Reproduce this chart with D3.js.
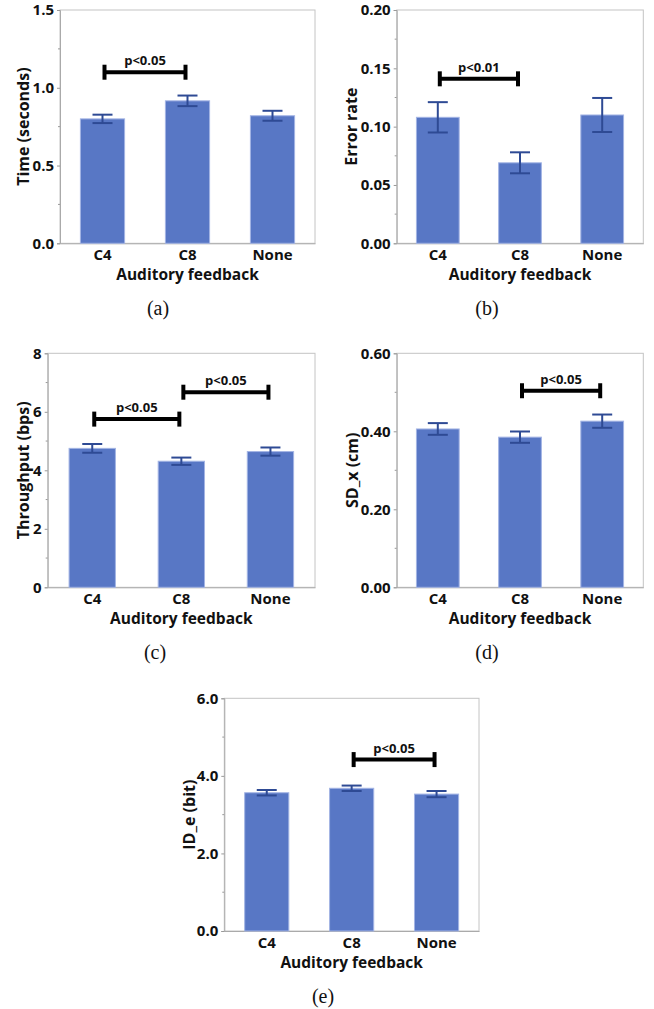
<!DOCTYPE html>
<html>
<head>
<meta charset="utf-8">
<script src="https://cdn.jsdelivr.net/npm/d3@7"></script>
<style>
  html, body { margin: 0; padding: 0; background: #fff; }
  svg { display: block; }
</style>
</head>
<body>
<script>
// ---------- DATA ----------
const categories = ["C4", "C8", "None"];

const timeMeans = [0.80, 0.916, 0.82];
const timeErr = [0.027, 0.034, 0.032];
const timeTicks = [0.0, 0.5, 1.0, 1.5];
const timeTickLabels = ["0.0", "0.5", "1.0", "1.5"];
const timeSig = [{ from: "C4", to: "C8", y: 1.10, label: "p<0.05" }];

const errorMeans = [0.108, 0.069, 0.110];
const errorErr = [0.013, 0.009, 0.0146];
const errorTicks = [0.00, 0.05, 0.10, 0.15, 0.20];
const errorTickLabels = ["0.00", "0.05", "0.10", "0.15", "0.20"];
const errorSig = [{ from: "C4", to: "C8", y: 0.141, label: "p<0.01" }];

const throughputMeans = [4.75, 4.31, 4.64];
const throughputErr = [0.15, 0.125, 0.14];
const throughputTicks = [0, 2, 4, 6, 8];
const throughputTickLabels = ["0", "2", "4", "6", "8"];
const throughputSig = [
  { from: "C4", to: "C8", y: 5.75, label: "p<0.05" },
  { from: "C8", to: "None", y: 6.67, label: "p<0.05" }
];

const sdxMeans = [0.406, 0.385, 0.426];
const sdxErr = [0.015, 0.0145, 0.017];
const sdxTicks = [0.00, 0.20, 0.40, 0.60];
const sdxTickLabels = ["0.00", "0.20", "0.40", "0.60"];
const sdxSig = [{ from: "C8", to: "None", y: 0.504, label: "p<0.05" }];

const ideMeans = [3.565, 3.68, 3.53];
const ideErr = [0.07, 0.07, 0.08];
const ideTicks = [0.0, 2.0, 4.0, 6.0];
const ideTickLabels = ["0.0", "2.0", "4.0", "6.0"];
const ideSig = [{ from: "C8", to: "None", y: 4.42, label: "p<0.05" }];

const xTitle = "Auditory feedback";

// ---------- LAYOUT ----------
const W = 654, H = 1009;
const svg = d3.select("body").append("svg").attr("width", W).attr("height", H);

const FONT = "'Open Sans', 'Noto Sans', sans-serif";
const BAR = "#5877c5", BAR_EDGE = "#a3b4e4", ERR = "#2e4a94", FRAME = "#c4c4c4";

const panels = [
  { means: timeMeans, err: timeErr, ticks: timeTicks, tickLabels: timeTickLabels, sig: timeSig,
    yTitle: "Time (seconds)", caption: "(a)",
    box: { l: 60, t: 10, r: 315, b: 243.3 }, yTitleX: 22.7, captionX: 158 },
  { means: errorMeans, err: errorErr, ticks: errorTicks, tickLabels: errorTickLabels, sig: errorSig,
    yTitle: "Error rate", caption: "(b)",
    box: { l: 396.7, t: 10, r: 643.3, b: 243.3 }, yTitleX: 350.5, captionX: 487 },
  { means: throughputMeans, err: throughputErr, ticks: throughputTicks, tickLabels: throughputTickLabels, sig: throughputSig,
    yTitle: "Throughput (bps)", caption: "(c)",
    box: { l: 47.7, t: 353.3, r: 315, b: 587.3 }, yTitleX: 23, captionX: 155 },
  { means: sdxMeans, err: sdxErr, ticks: sdxTicks, tickLabels: sdxTickLabels, sig: sdxSig,
    yTitle: "SD_x (cm)", caption: "(d)",
    box: { l: 396.7, t: 353.3, r: 643.3, b: 587.3 }, yTitleX: 351.7, captionX: 487 },
  { means: ideMeans, err: ideErr, ticks: ideTicks, tickLabels: ideTickLabels, sig: ideSig,
    yTitle: "ID_e (bit)", caption: "(e)",
    box: { l: 224.3, t: 698.3, r: 479, b: 931 }, yTitleX: 189, captionX: 323 }
];

panels.forEach(p => {
  const { l, t, r, b } = p.box;
  const g = svg.append("g");
  const x = d3.scaleBand().domain(categories).range([l, r]).paddingInner(0.48).paddingOuter(0.24);
  const yMax = p.ticks[p.ticks.length - 1];
  const y = d3.scaleLinear().domain([0, yMax]).range([b, t]);

  // frame
  g.append("rect").attr("x", l).attr("y", t).attr("width", r - l).attr("height", b - t)
    .attr("fill", "none").attr("stroke", FRAME).attr("stroke-width", 1);

  // minor ticks
  const minor = [];
  for (let i = 0; i < p.ticks.length - 1; i++) minor.push((p.ticks[i] + p.ticks[i + 1]) / 2);
  g.selectAll(".minor").data(minor).join("line")
    .attr("x1", l - 2).attr("x2", l).attr("y1", d => y(d)).attr("y2", d => y(d))
    .attr("stroke", "#999").attr("stroke-width", 1);

  // y axis
  const yAxis = d3.axisLeft(y).tickValues(p.ticks)
    .tickFormat((d, i) => p.tickLabels[i]).tickSize(3).tickPadding(3);
  const ya = g.append("g").attr("transform", `translate(${l},0)`).call(yAxis);
  ya.select(".domain").attr("stroke", "#aaa");
  ya.selectAll(".tick line").attr("stroke", "#999");
  ya.selectAll("text").attr("font-family", FONT).attr("font-weight", 700)
    .attr("font-size", 15).attr("fill", "#111");

  // x axis
  const xAxis = d3.axisBottom(x).tickSize(0).tickPadding(6);
  const xa = g.append("g").attr("transform", `translate(0,${b})`).call(xAxis);
  xa.select(".domain").attr("stroke", "#aaa");
  xa.selectAll("text").attr("font-family", FONT).attr("font-weight", 700)
    .attr("font-size", 15).attr("fill", "#111");

  // bars
  const rows = categories.map((c, i) => ({ c, m: p.means[i], e: p.err[i] }));
  g.selectAll(".bar").data(rows).join("rect")
    .attr("x", d => x(d.c)).attr("width", x.bandwidth())
    .attr("y", d => y(d.m)).attr("height", d => y(0) - y(d.m))
    .attr("fill", BAR).attr("stroke", BAR_EDGE).attr("stroke-width", 1);

  // error bars
  const cx = d => x(d.c) + x.bandwidth() / 2;
  const eb = g.selectAll(".eb").data(rows).join("g");
  eb.append("line").attr("x1", cx).attr("x2", cx)
    .attr("y1", d => y(d.m + d.e)).attr("y2", d => y(d.m - d.e))
    .attr("stroke", ERR).attr("stroke-width", 2);
  [1, -1].forEach(s => {
    eb.append("line").attr("x1", d => cx(d) - 10).attr("x2", d => cx(d) + 10)
      .attr("y1", d => y(d.m + s * d.e)).attr("y2", d => y(d.m + s * d.e))
      .attr("stroke", ERR).attr("stroke-width", 2);
  });

  // significance brackets
  p.sig.forEach(s => {
    const x1 = x(s.from) + x.bandwidth() / 2 + 2;
    const x2 = x(s.to) + x.bandwidth() / 2 - 2;
    const yy = y(s.y);
    const sg = g.append("g");
    sg.append("line").attr("x1", x1).attr("x2", x2).attr("y1", yy).attr("y2", yy)
      .attr("stroke", "#000").attr("stroke-width", 4);
    [x1, x2].forEach(xx => sg.append("line").attr("x1", xx).attr("x2", xx)
      .attr("y1", yy - 7.5).attr("y2", yy + 7.5).attr("stroke", "#000").attr("stroke-width", 4));
    sg.append("text").attr("x", (x1 + x2) / 2).attr("y", yy - 7)
      .attr("text-anchor", "middle").attr("font-family", FONT).attr("font-weight", 700)
      .attr("font-size", 13).attr("fill", "#111").text(s.label);
  });

  // axis titles
  g.append("text").attr("x", (l + r) / 2).attr("y", b + 37)
    .attr("text-anchor", "middle").attr("font-family", FONT).attr("font-weight", 700)
    .attr("font-size", 15.5).attr("fill", "#111").text(xTitle);
  g.append("text").attr("transform", `translate(${p.yTitleX},${(t + b) / 2}) rotate(-90)`)
    .attr("text-anchor", "middle").attr("dominant-baseline", "central")
    .attr("font-family", FONT).attr("font-weight", 700)
    .attr("font-size", 16).attr("fill", "#111").text(p.yTitle);

  // caption
  g.append("text").attr("x", p.captionX).attr("y", b + 72)
    .attr("text-anchor", "middle").attr("font-family", "'Liberation Serif', 'Times New Roman', serif")
    .attr("font-size", 20).attr("fill", "#111").text(p.caption);
});
</script>
</body>
</html>
